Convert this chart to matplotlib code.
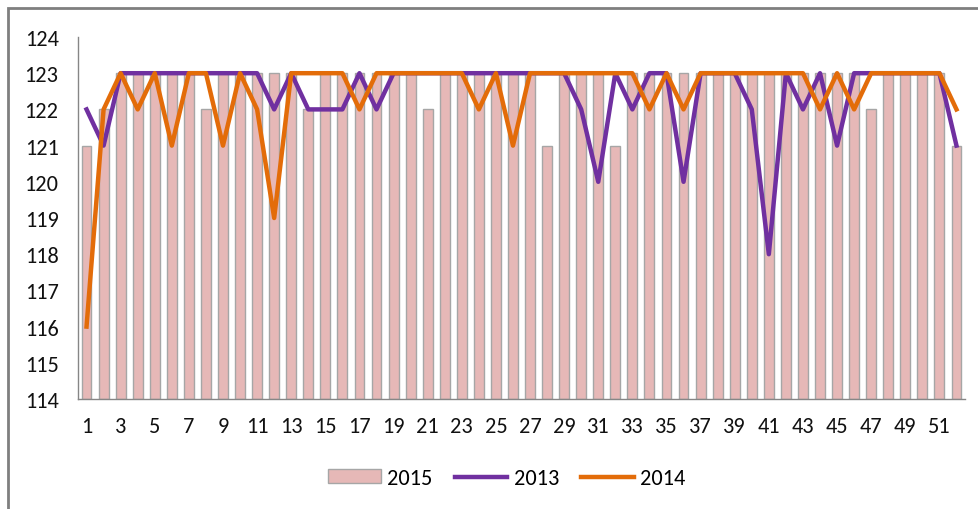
import matplotlib
matplotlib.use("Agg")
import matplotlib.pyplot as plt
from matplotlib.patches import Rectangle, Patch
from matplotlib.lines import Line2D

weeks = list(range(1, 53))
s2015 = [121, 122, 123, 123, 123, 123, 123, 122, 123, 123, 123, 123, 123,
         122, 123, 123, 123, 123, 123, 123, 122, 123, 123, 123, 123, 123,
         123, 121, 123, 123, 123, 121, 123, 123, 123, 123, 123, 123, 123,
         123, 123, 123, 123, 123, 123, 123, 122, 123, 123, 123, 123, 121]
s2013 = [122, 121, 123, 123, 123, 123, 123, 123, 123, 123, 123, 122, 123,
         122, 122, 122, 123, 122, 123, 123, 123, 123, 123, 123, 123, 123,
         123, 123, 123, 122, 120, 123, 122, 123, 123, 120, 123, 123, 123,
         122, 118, 123, 122, 123, 121, 123, 123, 123, 123, 123, 123, 121]
s2014 = [116, 122, 123, 122, 123, 121, 123, 123, 121, 123, 122, 119, 123,
         123, 123, 123, 122, 123, 123, 123, 123, 123, 123, 122, 123, 121,
         123, 123, 123, 123, 123, 123, 123, 122, 123, 122, 123, 123, 123,
         123, 123, 123, 123, 122, 123, 122, 123, 123, 123, 123, 123, 122]
xtick_labels = [str(w) for w in range(1, 53, 2)]
yticks = list(range(114, 125))

bar_color = "#E6B8B7"
bar_edge = "#A6A6A6"
c2013 = "#7030A0"
c2014 = "#E36C09"
font = ["Carlito", "DejaVu Sans"]
fs = 16

fig = plt.figure(figsize=(9.79, 5.10), dpi=100)
ax = fig.add_axes([78/979, 1-400/510, (965-78)/979, (400-38)/510])

ax.bar(weeks, [v - 114 for v in s2015], bottom=114, width=0.58,
       color=bar_color, edgecolor=bar_edge, linewidth=1.0, zorder=2)
ax.plot(weeks, s2013, color=c2013, lw=3.2, zorder=3)
ax.plot(weeks, s2014, color=c2014, lw=3.2, zorder=4)

ax.set_xlim(0.5, 52.5)
ax.set_ylim(114, 124)
ax.set_yticks(yticks)
ax.set_yticklabels([str(y) for y in yticks], fontsize=fs, family=font, color="#111111")
ax.set_xticks(list(range(1, 53, 2)))
ax.set_xticklabels(xtick_labels, fontsize=fs, family=font, color="#111111")
ax.tick_params(axis="y", length=0, pad=14)
ax.tick_params(axis="x", length=0, pad=12)
for side in ["top", "right"]:
    ax.spines[side].set_visible(False)
for side in ["left", "bottom"]:
    ax.spines[side].set_color("#868686")
    ax.spines[side].set_linewidth(1.0)

handles = [Patch(facecolor=bar_color, edgecolor=bar_edge, label="2015"),
           Line2D([], [], color=c2013, lw=3.2, label="2013"),
           Line2D([], [], color=c2014, lw=3.2, label="2014")]
fig.legend(handles=handles, loc="center", bbox_to_anchor=(507/979, 1-479/510),
           ncol=3, frameon=False, handlelength=2.35, handletextpad=0.3,
           columnspacing=1.0, handleheight=0.6, prop={"family": font, "size": fs})

fig.add_artist(Rectangle((8/979, -0.1), 1.2, 1.1 - 9/510, transform=fig.transFigure,
                         fill=False, edgecolor="#7F7F7F", linewidth=2.0))

fig.savefig("out.png", dpi=100)
